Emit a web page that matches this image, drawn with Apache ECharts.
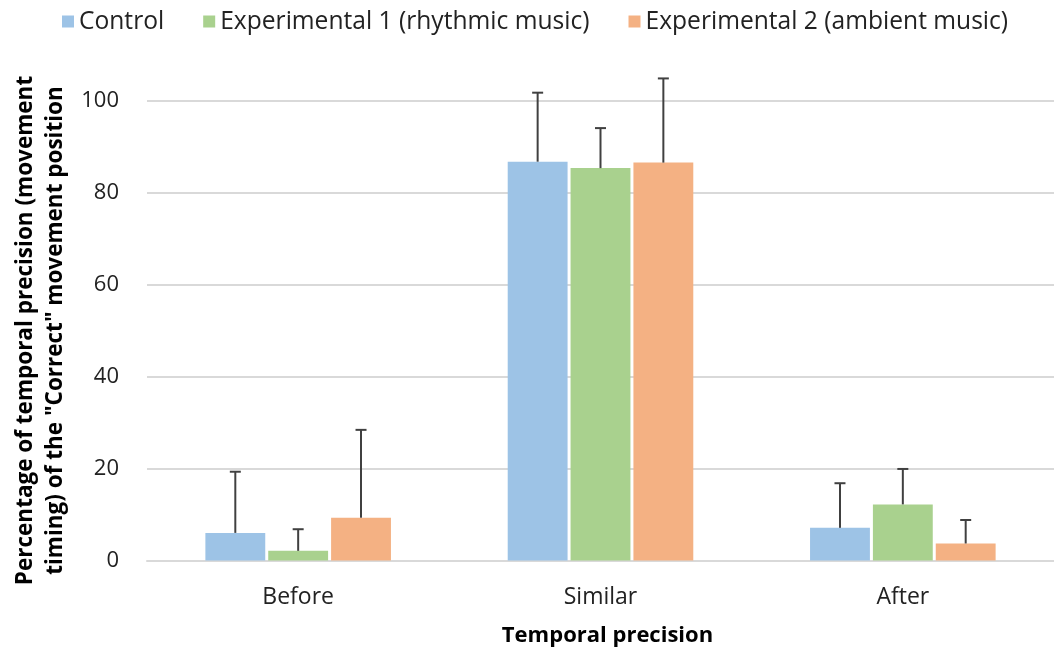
<!DOCTYPE html>
<html>
<head>
<meta charset="utf-8">
<script src="https://cdn.jsdelivr.net/npm/echarts@6/dist/echarts.min.js"></script>
<style>
html,body{margin:0;padding:0;background:#fff;}
#chart{width:1054px;height:654px;}
</style>
</head>
<body>
<div id="chart"></div>
<script>
const categories = ['Before', 'Similar', 'After'];
const seriesNames = ['Control', 'Experimental 1 (rhythmic music)', 'Experimental 2 (ambient music)'];
const controlMean = [6.0, 86.7, 7.1];
const controlSD = [13.3, 15.0, 9.7];
const exp1Mean = [2.1, 85.3, 12.2];
const exp1SD = [4.7, 8.7, 7.7];
const exp2Mean = [9.3, 86.5, 3.7];
const exp2SD = [19.1, 18.3, 5.1];
const yTicks = [0, 20, 40, 60, 80, 100];

const colors = ['#9DC3E6', '#A9D18E', '#F4B183'];
const means = [controlMean, exp1Mean, exp2Mean];
const sds = [controlSD, exp1SD, exp2SD];
const FONT = '"Open Sans"';
const BAR_PCT = 0.198, GAP_PCT = 0.05;

const errData = [];
means.forEach((m, s) => m.forEach((v, c) => errData.push([c, s, v, v + sds[s][c]])));

const chart = echarts.init(document.getElementById('chart'), null, {renderer: 'canvas'});
chart.setOption({
  animation: false,
  textStyle: {fontFamily: FONT},
  legend: {
    left: 62, top: 9, padding: 0,
    icon: 'rect', itemWidth: 12, itemHeight: 12, itemGap: 39,
    textStyle: {fontFamily: FONT, fontSize: 24.6, color: '#222'},
    data: seriesNames
  },
  grid: {left: 147, right: 0, top: 100.5, bottom: 93.5, containLabel: false},
  xAxis: {
    type: 'category', data: categories,
    axisLine: {lineStyle: {color: '#D9D9D9', width: 2}},
    axisTick: {show: false},
    axisLabel: {fontFamily: FONT, fontSize: 23, color: '#222', margin: 25},
    name: 'Temporal precision', nameLocation: 'middle', nameGap: 64,
    nameTextStyle: {fontFamily: FONT, fontSize: 22, fontWeight: 'bold', color: '#000', padding: [0, 0, 0, 14]}
  },
  yAxis: {
    type: 'value', min: 0, max: 100, interval: 20,
    axisLine: {show: false}, axisTick: {show: false},
    splitLine: {lineStyle: {color: '#D9D9D9', width: 2}},
    axisLabel: {fontFamily: FONT, fontSize: 22, color: '#222', margin: 28,
      formatter: v => yTicks.includes(v) ? String(v) : ''},
    name: 'Percentage of temporal precision (movement\ntiming) of the "Correct" movement position',
    nameLocation: 'middle', nameRotate: 90, nameGap: 75,
    nameTextStyle: {fontFamily: FONT, fontSize: 22.5, fontWeight: 'bold', color: '#000', lineHeight: 30}
  },
  series: [
    ...seriesNames.map((n, i) => ({
      name: n, type: 'bar', data: means[i],
      barWidth: (BAR_PCT * 100) + '%', barGap: (GAP_PCT * 100) + '%',
      itemStyle: {color: colors[i]}
    })),
    {
      type: 'custom', clip: false, z: 5,
      data: errData,
      encode: {x: 0, y: 3},
      renderItem: function (params, api) {
        const c = api.value(0), s = api.value(1);
        const band = api.size([1, 0])[0];
        const bw = band * BAR_PCT;
        const center = api.coord([c, 0])[0] + (s - 1) * bw * (1 + GAP_PCT);
        const yTop = api.coord([c, api.value(3)])[1];
        const yBase = api.coord([c, api.value(2)])[1];
        const style = {stroke: '#404040', lineWidth: 2};
        return {
          type: 'group',
          children: [
            {type: 'line', shape: {x1: center, y1: yBase, x2: center, y2: yTop}, style},
            {type: 'line', shape: {x1: center - 5.5, y1: yTop, x2: center + 5.5, y2: yTop}, style}
          ]
        };
      }
    }
  ]
});
</script>
</body>
</html>
